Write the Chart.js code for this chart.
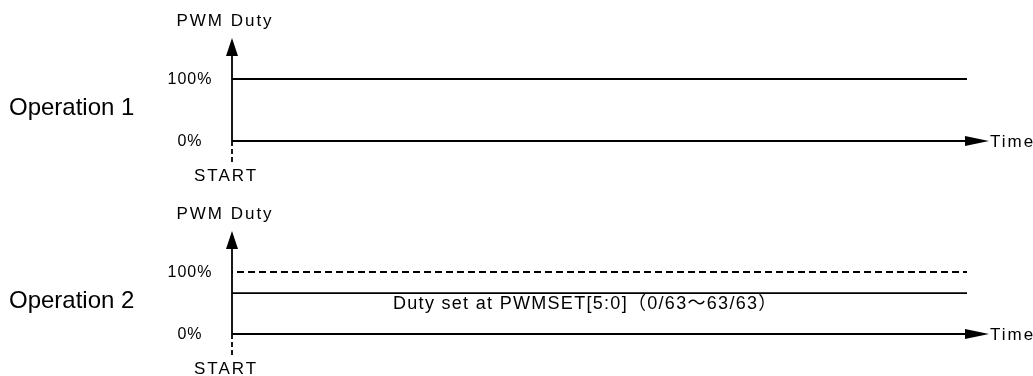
<!DOCTYPE html>
<html>
<head>
  <title>PWM Duty operations</title>
  <style>
    body { margin: 0; background: #fff; overflow: hidden; }
    #wrap { position: relative; width: 1033px; height: 376px; }
    .panel { position: absolute; left: 0; width: 1033px; }
    #p1 { top: 0; height: 193px; }
    #p2 { top: 193px; height: 183px; }
  </style>
</head>
<body>
  <div id="wrap">
    <div class="panel" id="p1"><canvas id="op1"></canvas></div>
    <div class="panel" id="p2"><canvas id="op2"></canvas></div>
  </div>

  <script src="https://cdn.jsdelivr.net/npm/chart.js"></script>
  <script>
    // data
    const timePoints = [0, 100];
    const op1Duty = [100, 100];
    const op2Max = [100, 100];
    const op2Duty = [66, 66];
    const panelNames = ['Operation 1', 'Operation 2'];
    const tickLabels = ['100%', '0%'];
    const tickValues = [100, 0];
    const yTitle = 'PWM Duty';
    const xTitle = 'Time';
    const startLabel = 'START';
    const dutyNote = 'Duty set at PWMSET[5:0]\uFF080/63\uFF5E63/63\uFF09';

    const FONT = '"Liberation Sans", Arial, "Noto Sans CJK JP", sans-serif';
    const LW = 1.8;

    function pts(ys) {
      return timePoints.map((t, i) => ({ x: t, y: ys[i] }));
    }

    // draws the axes, arrows and text around the chart area
    function diagramPlugin(name, note) {
      return {
        id: 'diagram',
        afterDatasetsDraw(chart) {
          const ctx = chart.ctx;
          const a = chart.chartArea;
          const y = chart.scales.y;
          const x0 = a.left;
          const y0 = y.getPixelForValue(0);
          const y100 = y.getPixelForValue(100);
          ctx.save();
          ctx.strokeStyle = '#000';
          ctx.fillStyle = '#000';
          ctx.lineWidth = LW;

          // time axis
          ctx.beginPath();
          ctx.moveTo(x0, y0);
          ctx.lineTo(a.right, y0);
          ctx.stroke();
          ctx.beginPath();
          ctx.moveTo(a.right - 2, y0 - 5);
          ctx.lineTo(a.right + 22, y0);
          ctx.lineTo(a.right - 2, y0 + 5);
          ctx.closePath();
          ctx.fill();

          // duty axis
          ctx.beginPath();
          ctx.moveTo(x0, y0);
          ctx.lineTo(x0, y100 - 26);
          ctx.stroke();
          ctx.beginPath();
          ctx.moveTo(x0 - 6, y100 - 23);
          ctx.lineTo(x0, y100 - 41);
          ctx.lineTo(x0 + 6, y100 - 23);
          ctx.closePath();
          ctx.fill();

          // start marker
          ctx.setLineDash([5, 3]);
          ctx.beginPath();
          ctx.moveTo(x0, y0);
          ctx.lineTo(x0, y0 + 22);
          ctx.stroke();
          ctx.setLineDash([]);

          // texts
          ctx.textBaseline = 'middle';
          ctx.font = '17px ' + FONT;
          ctx.letterSpacing = '2px';
          ctx.textAlign = 'center';
          ctx.fillText(yTitle, x0 - 7, y100 - 58);
          ctx.fillText(startLabel, x0 - 6, y0 + 35);
          ctx.textAlign = 'left';
          ctx.fillText(xTitle, a.right + 23, y0 + 1);

          ctx.font = '16px ' + FONT;
          ctx.letterSpacing = '1px';
          ctx.textAlign = 'center';
          tickValues.forEach((v, i) => {
            ctx.fillText(tickLabels[i], 190, y.getPixelForValue(v) + 1);
          });

          ctx.font = '24px ' + FONT;
          ctx.letterSpacing = '0px';
          ctx.textAlign = 'left';
          ctx.fillText(name, 9, (y0 + y100) / 2 - 2);

          if (note) {
            ctx.font = '18px ' + FONT;
            ctx.letterSpacing = '1.3px';
            ctx.fillText(note, 393, y.getPixelForValue(op2Duty[0]) + 11);
          }
          ctx.restore();
        }
      };
    }

    function makeChart(id, datasets, name, note, bottomPad) {
      return new Chart(document.getElementById(id), {
        type: 'line',
        data: { datasets: datasets },
        options: {
          responsive: true,
          maintainAspectRatio: false,
          animation: false,
          events: [],
          layout: { padding: { left: 232, right: 66, top: 79, bottom: bottomPad } },
          plugins: { legend: { display: false }, tooltip: { enabled: false } },
          scales: {
            x: { type: 'linear', min: 0, max: 100, display: false },
            y: { min: 0, max: 100, display: false }
          }
        },
        plugins: [diagramPlugin(name, note)]
      });
    }

    makeChart('op1', [{
      data: pts(op1Duty),
      borderColor: '#000',
      borderWidth: LW,
      pointRadius: 0,
      clip: false
    }], panelNames[0], null, 52);

    makeChart('op2', [{
      data: pts(op2Max),
      borderColor: '#000',
      borderWidth: LW,
      borderDash: [7, 4],
      borderDashOffset: -5,
      pointRadius: 0,
      clip: false
    }, {
      data: pts(op2Duty),
      borderColor: '#000',
      borderWidth: LW,
      pointRadius: 0,
      clip: false
    }], panelNames[1], dutyNote, 42);
  </script>
</body>
</html>
